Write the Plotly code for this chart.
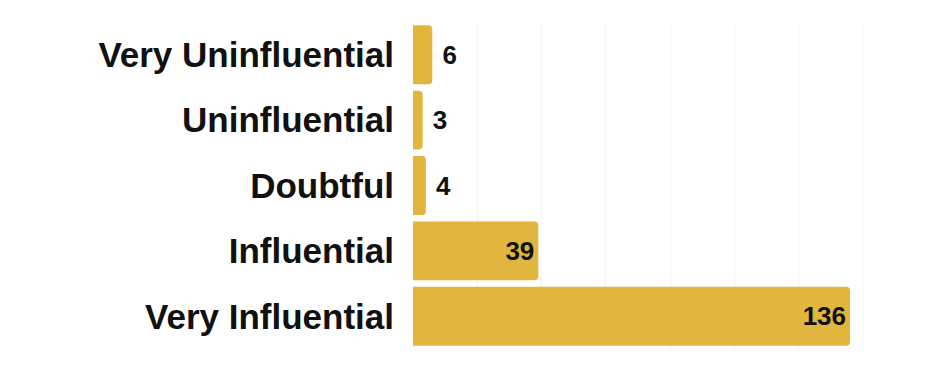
import plotly.graph_objects as go

categories = ["Very Uninfluential", "Uninfluential", "Doubtful", "Influential", "Very Influential"]
values = [6, 3, 4, 39, 136]
text_positions = ["outside", "outside", "outside", "inside", "inside"]

labels = [(" " if p == "outside" else "") + str(v) for v, p in zip(values, text_positions)]
vfont = dict(family="Liberation Sans", size=26, color="#111111", weight="bold")

fig = go.Figure(go.Bar(
    y=categories,
    x=values,
    orientation="h",
    marker=dict(color="#E1B63E", line=dict(width=0)),
    text=labels,
    textposition=text_positions,
    insidetextanchor="end",
    textfont=vfont,
    outsidetextfont=vfont,
    insidetextfont=vfont,
    cliponaxis=False,
))

fig.update_layout(
    width=926, height=365,
    margin=dict(l=413, r=31, t=22, b=16),
    paper_bgcolor="white",
    plot_bgcolor="white",
    bargap=0.1,
    barcornerradius=4,
    showlegend=False,
    uniformtext=dict(minsize=26, mode="show"),
    xaxis=dict(range=[0, 150], dtick=20, showgrid=True, gridcolor="#f4f4f4",
               showticklabels=False, zeroline=False, showline=False, ticks=""),
    yaxis=dict(autorange="reversed", showgrid=False, zeroline=False,
               tickfont=dict(family="Liberation Sans", size=35, color="#111111", weight="bold"),
               ticks="", ticklabelstandoff=18),
)

fig.write_html("out.html")
